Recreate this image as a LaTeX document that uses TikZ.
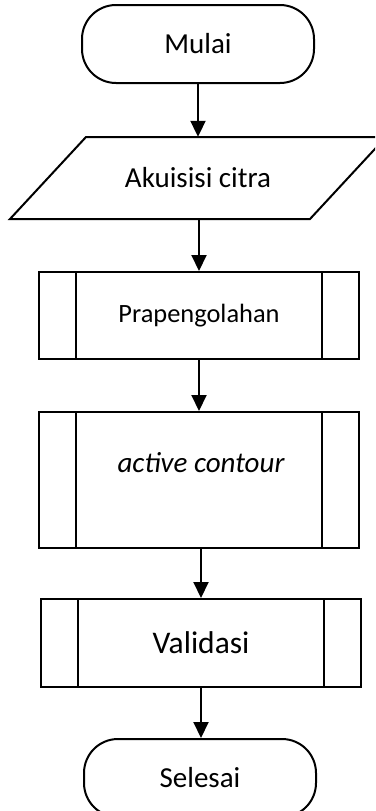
\documentclass[tikz,border=0pt]{standalone}
\usepackage{fontspec}
\setmainfont{Carlito}
\usetikzlibrary{arrows.meta}
\tikzset{
  x=1pt,y=1pt,
  base/.style={line width=2pt, draw=black, inner sep=0pt},
  termbox/.style={base, rectangle, rounded corners=34pt, minimum width=232pt, minimum height=78pt, font=\fontsize{29}{34}\selectfont},
  procbox/.style={base, rectangle, minimum width=320pt},
  plain/.style={inner sep=0pt, font=\fontsize{29}{34}\selectfont},
  flow/.style={line width=2pt, -{Triangle[length=16pt,width=15pt]}}
}
\begin{document}
\begin{tikzpicture}
\useasboundingbox (0,0) rectangle (375,-811);
\clip (0,0) rectangle (375,-811);
% start
\node[termbox] (mulai) at (198,-44) {Mulai};
% input
\draw[line width=2pt] (86,-137) -- (386,-137) -- (310,-219) -- (10,-219) -- cycle;
\node[plain, minimum height=82pt, minimum width=224pt] (akuisisi) at (198,-178) {Akuisisi citra};
% predefined processes
\node[procbox, minimum height=87pt, font=\fontsize{26.4}{31}\selectfont] (prap) at (199,-315.5) {Prapengolahan};
\draw[line width=2pt] ([xshift=38pt]prap.north west) -- ([xshift=38pt]prap.south west)
      ([xshift=-38pt]prap.north east) -- ([xshift=-38pt]prap.south east);
\node[procbox, minimum height=136pt] (active) at (199,-480) {};
\draw[line width=2pt] ([xshift=38pt]active.north west) -- ([xshift=38pt]active.south west)
      ([xshift=-38pt]active.north east) -- ([xshift=-38pt]active.south east);
\node[plain] (activetext) at (201,-463) {\itshape active contour};
\node[procbox, minimum height=88pt, font=\fontsize{31.5}{37}\selectfont] (valid) at (201,-643) {Validasi};
\draw[line width=2pt] ([xshift=38pt]valid.north west) -- ([xshift=38pt]valid.south west)
      ([xshift=-38pt]valid.north east) -- ([xshift=-38pt]valid.south east);
% end
\node[termbox] (selesai) at (200,-778) {Selesai};
% connectors
\draw[flow] (mulai.south) -- (mulai.south |- akuisisi.north);
\draw[flow] ([xshift=1pt]akuisisi.south) -- ([xshift=1pt]akuisisi.south |- prap.north);
\draw[flow] (prap.south) -- (active.north);
\draw[flow] ([xshift=2pt]active.south) -- ([xshift=2pt]active.south |- valid.north);
\draw[flow] (valid.south) -- (valid.south |- selesai.north);
\end{tikzpicture}
\end{document}
